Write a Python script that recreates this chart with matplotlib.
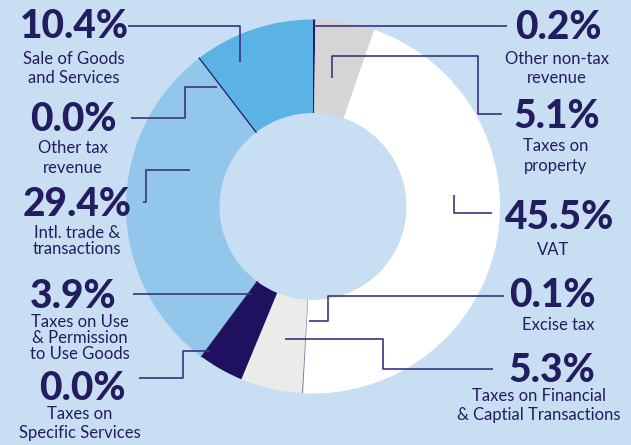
import numpy as np
import matplotlib.pyplot as plt

# revenue shares (%), clockwise from 12 o'clock
categories = ["Other non-tax\nrevenue", "Taxes on\nproperty", "VAT", "Excise tax",
              "Taxes on Financial\n& Captial Transactions",
              "Taxes on Use\n& Permission\nto Use Goods",
              "Taxes on\nSpecific Services", "Intl. trade &\ntransactions",
              "Other tax\nrevenue", "Sale of Goods\nand Services"]
shares = [0.2, 5.1, 45.5, 0.1, 5.3, 3.9, 0.0, 29.4, 0.0, 10.4]
colors = ["#221a66", "#d5d5d5", "#ffffff", "#8581a8", "#ebebea",
          "#1f1160", "#1f1160", "#92c6eb", "#1f1160", "#5ab3e4"]

BG = "#c8dff3"
NAVY = "#231c5f"
LINE = "#3a3380"
W, H = 631, 445
CX, CY, R_OUT, R_IN = 313, 206.5, 187, 93.5

# layout: percent text (x, baseline), label x, label line y's
pct_pos = [(558, 39), (557, 128), (559, 229), (552, 307), (552, 382),
           (73, 308), (82, 400), (77, 216), (73, 131), (74, 38)]
lab_x = [557, 556, 553, 558, 539, 80, 80, 77, 73, 74]
lab_y = [[59, 78], [146, 166], [250], [325], [396, 415],
         [322, 338, 354], [414, 433], [233, 249], [148, 168], [59, 78]]
leaders = [
    [(313, 26), (507, 26)],
    [(332, 78), (332, 56), (478, 56), (478, 114), (502, 114)],
    [(454, 195), (454, 213), (492, 213)],
    [(309, 321), (328, 321), (328, 296), (504, 296)],
    [(285, 339), (383, 339), (383, 369), (493, 369)],
    [(133, 294), (252, 294)],
    [(139, 378), (183, 378), (183, 351), (210, 351)],
    [(143, 202), (146, 202), (146, 170), (190, 170)],
    [(131, 118), (185, 118), (185, 87), (217, 87)],
    [(128, 26), (240, 26), (240, 62)],
]

fig = plt.figure(figsize=(W / 100, H / 100), dpi=100, facecolor=BG)
ax = fig.add_axes([0, 0, 1, 1])
ax.set_facecolor(BG)

ax.pie(shares, colors=colors, startangle=-90, counterclock=True,
       radius=R_OUT, center=(CX, CY),
       wedgeprops=dict(width=R_OUT - R_IN, linewidth=0))

# zero-share categories drawn as hairlines on the ring
total = sum(shares)
cum = np.cumsum(shares)
for i, v in enumerate(shares):
    if v == 0:
        phi = np.deg2rad(360 * cum[i] / total)
        rr = np.array([R_IN, R_OUT])
        ax.plot(CX + rr * np.sin(phi), CY - rr * np.cos(phi), color=NAVY, lw=0.9)

for pts in leaders:
    xs, ys = zip(*pts)
    ax.plot(xs, ys, color=LINE, lw=1.2, solid_capstyle="butt")

for i, cat in enumerate(categories):
    x, y = pct_pos[i]
    ax.text(x, y, f"{shares[i]:.1f}%", ha="center", va="baseline",
            fontsize=28, fontweight="black", family="Lato", color=NAVY)
    for line, ly in zip(cat.split("\n"), lab_y[i]):
        ax.text(lab_x[i], ly, line, ha="center", va="center",
                fontsize=12, family="Lato", color=NAVY)

ax.set_xlim(0, W)
ax.set_ylim(H, 0)
ax.set_aspect("equal")
ax.axis("off")

fig.savefig("out.png", dpi=100, facecolor=BG)
